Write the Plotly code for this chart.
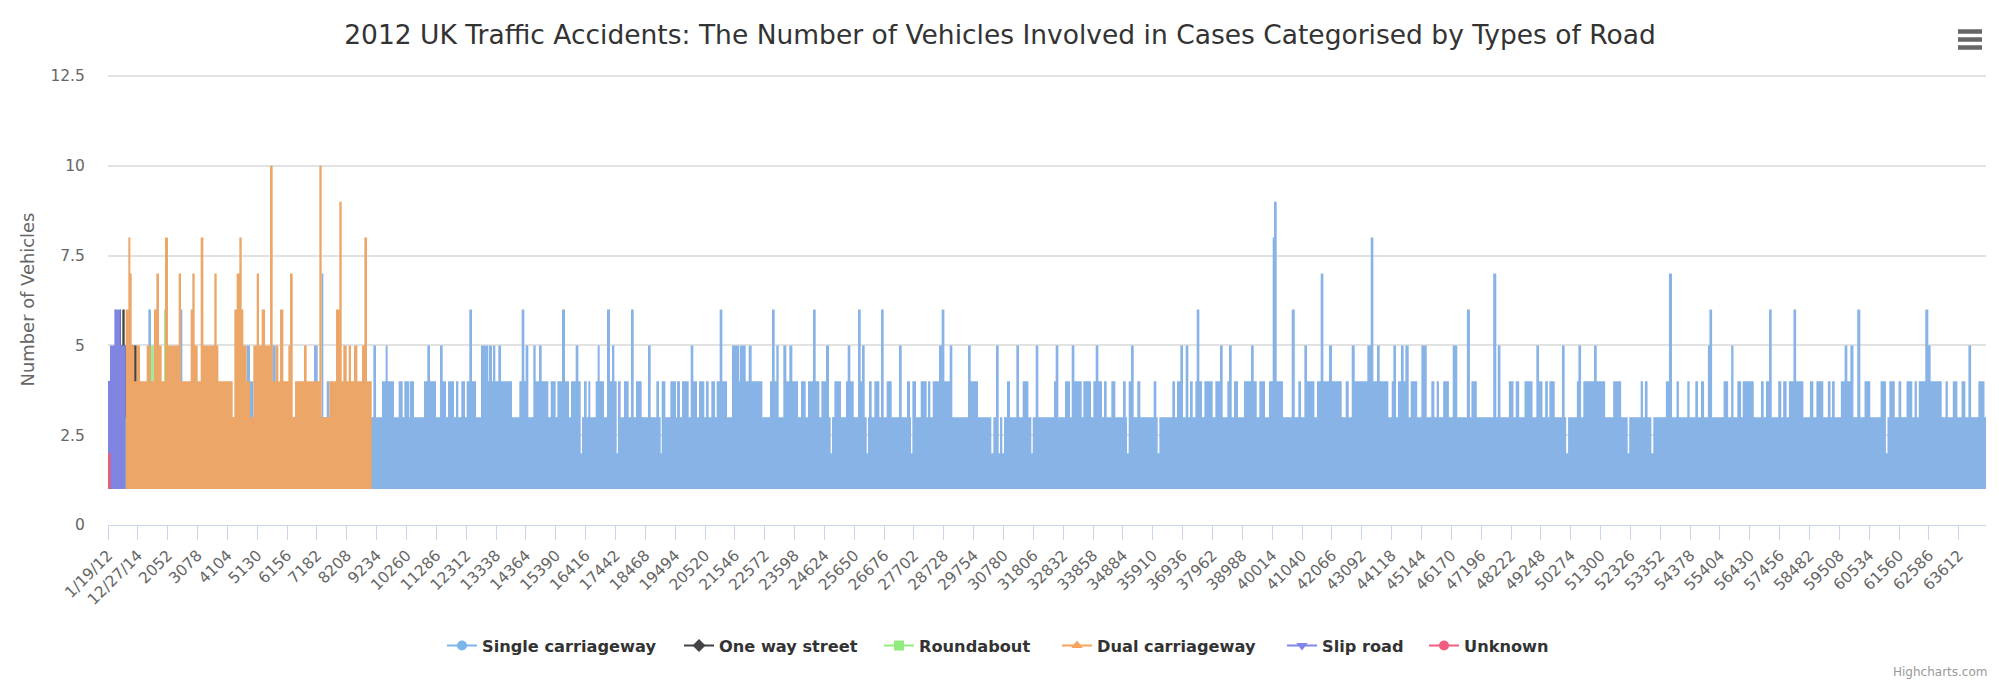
import plotly.graph_objects as go

TITLE = "2012 UK Traffic Accidents: The Number of Vehicles Involved in Cases Categorised by Types of Road"
Y_TITLE = "Number of Vehicles"
CREDIT = "Highcharts.com"
SERIES_NAMES = ["Single carriageway", "One way street", "Roundabout", "Dual carriageway", "Slip road", "Unknown"]
LAST_CATEGORY = 64547

Y_TICKS = [0, 2.5, 5, 7.5, 10, 12.5]
Y_LABELS = ["0", "2.5", "5", "7.5", "10", "12.5"]
X_TICKS = [0, 1026, 2052, 3078, 4104, 5130, 6156, 7182, 8208, 9234, 10260, 11286, 12312, 13338, 14364, 15390,
           16416, 17442, 18468, 19494, 20520, 21546, 22572, 23598, 24624, 25650, 26676, 27702, 28728, 29754,
           30780, 31806, 32832, 33858, 34884, 35910, 36936, 37962, 38988, 40014, 41040, 42066, 43092, 44118,
           45144, 46170, 47196, 48222, 49248, 50274, 51300, 52326, 53352, 54378, 55404, 56430, 57456, 58482,
           59508, 60534, 61560, 62586, 63612]
X_LABELS = ["1/19/12", "12/27/14"] + [str(v) for v in X_TICKS[2:]]

# Each series: category where a run starts, and the vehicle count of that run.
single_start = [0, 1387, 1478, 2475, 2555, 4766, 4881, 4996, 5649, 5763, 7081, 7207, 7344, 7402, 7516, 7608, 9062, 9120, 9211,
    9417, 9543, 9612, 9830, 9990, 10128, 10185, 10357, 10380, 10517, 10861, 10976, 11067, 11273, 11411, 11503, 11617, 11686, 11892, 11961,
    12041, 12144, 12270, 12327, 12419, 12511, 12648, 12820, 13061, 13084, 13198, 13233, 13313, 13416, 13507, 13886, 14138, 14218, 14310, 14355,
    14447, 14619, 14699, 14814, 14905, 15135, 15215, 15387, 15444, 15604, 15707, 15845, 15914, 16074, 16166, 16246, 16292, 16361, 16452, 16509,
    16578, 16761, 16830, 16899, 17048, 17151, 17254, 17323, 17403, 17483, 17529, 17621, 17735, 17895, 17976, 18068, 18148, 18342, 18560, 18652,
    18847, 18938, 18996, 19030, 19156, 19328, 19523, 19557, 19660, 19729, 19958, 20027, 20118, 20244, 20313, 20496, 20554, 20645, 20737, 20863,
    20920, 21023, 21115, 21275, 21447, 21688, 21711, 21917, 22020, 22123, 22490, 22753, 22822, 22914, 22971, 23051, 23212, 23315, 23418, 23521,
    23716, 23819, 23979, 24060, 24231, 24323, 24449, 24518, 24678, 24781, 24838, 24884, 24965, 25194, 25366, 25423, 25515, 25629, 25778, 25870,
    25916, 26007, 26076, 26122, 26156, 26248, 26339, 26511, 26569, 26660, 26763,
    26935, 27187, 27279, 27462, 27565, 27600, 27646, 27772, 27932, 28138, 28184, 28264, 28345, 28562, 28654, 28746, 28929, 29020, 29559, 29651,
    29903, 30361, 30430, 30521, 30613, 30659, 30739, 30796, 30899, 31003, 31220, 31312, 31438, 31633, 31736, 31782, 31885, 31976, 32515, 32572,
    32664, 32893, 33065, 33122, 33214, 33466, 33523, 33787, 33867, 33947, 34039, 34165, 34234, 34325, 34486, 34623, 34886, 34978, 35024, 35081,
    35161, 35253, 35379, 35482, 35940, 36032, 36078, 36135, 36582, 36674, 36742, 36857, 36949, 37040, 37132, 37189, 37281, 37373, 37419, 37510,
    37602, 37682, 37968, 38060, 38220, 38312, 38472, 38530, 38622, 38702, 38839, 39045, 39286, 39378, 39481, 39572, 39767, 39905, 40030, 40076,
    40168, 40386, 40684, 40787, 40913, 41004, 41119, 41211, 41463, 41554, 41680, 41772, 41967, 42070, 42402, 42540, 42643, 42746, 42849, 43284,
    43399, 43491, 43617, 43709, 44006, 44121, 44178, 44270, 44338, 44441, 44533, 44590, 44705,
    44774, 44997, 45141, 45325, 45483, 45588, 45666, 45745, 45890, 46087, 46218, 46376, 46704, 46809, 46861, 47045, 47610, 47715, 47767, 47859,
    48148, 48306, 48384, 48503, 48686, 48962, 49093, 49185, 49303, 49395, 49487, 49540, 49724, 49973, 50065, 50118, 50183, 50485, 50538, 50630,
    50708, 51076, 51168, 51457, 51733, 52008, 52231, 52284, 52678, 52757, 52822, 52914, 53046, 53111, 53544, 53650, 53755, 53912, 53991, 54280,
    54359, 54556, 54647, 54752, 54857, 54989, 55041, 55133, 55527, 55685, 55790, 55868, 56000, 56131, 56184, 56564, 56814, 56906, 56985, 57090,
    57182, 57405, 57510, 57576, 57694, 57772, 57930, 58022, 58271, 58495, 58613, 58718, 58954, 59112, 59204, 59256, 59348, 59558, 59689, 59781,
    59886, 59991, 60123, 60228, 60372, 60569, 60924, 61107, 61160, 61226, 61410, 61541, 61633, 61816, 62013, 62092, 62171, 62236, 62460, 62565,
    62644, 63025, 63156, 63235, 63406, 63563, 63707, 63838, 63943, 64035, 64285, 64495, 64547]
single_value = [3, 6, 3, 6, 3, 5, 4, 3, 5, 3, 5, 3, 7, 3, 4, 3, 3, 5, 3,
    4, 5, 4, 3, 4, 3, 4, 3, 4, 3, 4, 5, 4, 3, 5, 4, 3, 4, 3, 4,
    3, 4, 3, 4, 6, 4, 3, 5, 4, 5, 4, 5, 4, 5, 4, 3, 4, 6, 4, 5,
    3, 5, 4, 5, 4, 3, 4, 3, 4, 6, 4, 3, 4, 5, 4, 2, 3, 4, 3, 4,
    3, 4, 5, 4, 3, 6, 4, 5, 4, 2, 4, 3, 4, 3, 6, 3, 4, 3, 5, 3,
    4, 3, 2, 4, 3, 4, 3, 4, 3, 4, 3, 5, 4, 3, 4, 3, 4, 3, 4, 3,
    4, 6, 4, 3, 5, 4, 5, 4, 5, 4, 3, 4, 6, 4, 5, 3, 5, 4, 5, 4,
    3, 4, 3, 4, 6, 4, 3, 4, 5, 3, 2, 3, 4, 3, 4, 5, 4, 3, 6, 4,
    5, 3, 2, 3, 4, 3, 4, 3, 6, 3, 4,
    3, 5, 3, 4, 3, 2, 4, 3, 4, 3, 4, 3, 4, 5, 6, 4, 5, 3, 5, 4,
    3, 2, 3, 5, 2, 3, 2, 3, 4, 3, 5, 3, 4, 3, 2, 3, 5, 3, 4, 5,
    3, 4, 3, 5, 4, 3, 4, 3, 4, 5, 4, 3, 4, 3, 4, 3, 4, 3, 2, 4,
    5, 3, 4, 3, 4, 3, 2, 3, 4, 3, 4, 5, 3, 5, 3, 4, 3, 4, 6, 4,
    3, 4, 3, 4, 5, 3, 4, 5, 3, 4, 3, 4, 5, 4, 3, 4, 3, 4, 8, 9,
    4, 3, 6, 3, 4, 3, 5, 4, 3, 4, 7, 4, 5, 4, 3, 4, 3, 5, 4, 5,
    8, 4, 5, 4, 3, 4, 5, 3, 4, 5, 4, 5, 3,
    4, 3, 5, 3, 4, 3, 4, 3, 4, 3, 5, 3, 6, 3, 4, 3, 7, 3, 5, 3,
    4, 3, 4, 3, 4, 3, 5, 4, 3, 4, 3, 4, 3, 5, 3, 2, 3, 4, 5, 3,
    4, 5, 4, 3, 4, 3, 2, 3, 4, 3, 4, 3, 2, 3, 4, 7, 3, 4, 3, 4,
    3, 4, 3, 4, 3, 5, 6, 3, 4, 3, 5, 3, 4, 3, 4, 3, 4, 3, 4, 6,
    3, 4, 3, 4, 3, 4, 6, 4, 3, 4, 3, 4, 3, 4, 3, 4, 3, 4, 5, 4,
    5, 3, 6, 3, 4, 3, 4, 2, 3, 4, 3, 4, 3, 4, 3, 4, 3, 4, 6, 5,
    4, 3, 4, 3, 4, 3, 4, 3, 5, 3, 4, 3, 3]

one_way_start = [0, 413, 448, 493, 573, 906, 986]
one_way_value = [4, 6, 5, 6, 5, 5, 5]

roundabout_start = [0, 1467, 1581, 1925, 1959]
roundabout_value = [3, 5, 3, 6, 6]

dual_start = [608, 699, 768, 814, 906, 986, 1100, 1329, 1467, 1581, 1662, 1753, 1845, 1959, 2063, 2429, 2509, 2842, 2899, 2979,
    3082, 3185, 3277, 3655, 3735, 3793, 4285, 4342, 4423, 4514, 4595, 4652, 4766, 4881, 4996, 5110, 5190, 5282, 5397, 5569,
    5660, 5763, 5855, 5912, 6027, 6199, 6256, 6348, 6428, 6737, 6829, 7264, 7344, 7608, 7837, 7952, 8032, 8089, 8204, 8273,
    8352, 8456, 8570, 8731, 8811, 8902, 9063]
dual_value = [6, 8, 7, 5, 4, 5, 4, 5, 4, 6, 7, 5, 4, 8, 5, 7, 4, 6, 7, 5,
    4, 8, 5, 7, 5, 4, 3, 6, 7, 8, 6, 5, 4, 3, 5, 7, 5, 6, 5, 10,
    4, 5, 4, 6, 4, 5, 7, 3, 4, 5, 4, 10, 3, 4, 6, 9, 4, 5, 4, 5,
    4, 5, 4, 5, 8, 4, 4]

slip_start = [0, 69, 218, 436, 608]
slip_value = [4, 5, 6, 5, 5]

unknown_start = [0, 92]
unknown_value = [2, 2]

SERIES = [
    (single_start, single_value, "#87b3e6", "#7cb5ec", "circle"),
    (one_way_start, one_way_value, "#434348", "#434348", "diamond"),
    (roundabout_start, roundabout_value, "#a3ea92", "#90ed7d", "square"),
    (dual_start, dual_value, "#eca668", "#f7a35c", "triangle-up"),
    (slip_start, slip_value, "#8085e1", "#8085e9", "triangle-down"),
    (unknown_start, unknown_value, "#e0607e", "#f15c80", "circle"),
]
LEGEND_LEFT_PX = [442, 679, 879, 1057, 1282, 1424]

PAGE = 8  # the browser's default body margin
W, H = 1999 - PAGE, 689 - PAGE
L, R, T, B = 108 - PAGE, 13, 66, 164


def paper_x(px):
    return (px - PAGE - L) / (W - L - R)


def paper_y(py):
    return (H - B - (py - PAGE)) / (H - T - B)


fig = go.Figure()
for name, (starts, values, fill, color, symbol) in zip(SERIES_NAMES, SERIES):
    # closed step outline standing on the y = 1 floor of the areas
    xs = [starts[0]] + starts + [starts[-1]]
    ys = [1] + values + [1]
    fig.add_trace(go.Scatter(x=xs, y=ys, mode="lines", line=dict(shape="hv", width=0, color=fill),
                             fill="toself", fillcolor=fill, showlegend=False, hoverinfo="skip", name=name))

legend_layout = {}
for i, (name, (starts, values, fill, color, symbol)) in enumerate(zip(SERIES_NAMES, SERIES)):
    key = "legend" if i == 0 else f"legend{i + 1}"
    fig.add_trace(go.Scatter(x=[None], y=[None], mode="lines+markers", name=name, legend=key,
                             line=dict(color=color, width=2),
                             marker=dict(color=color, size=10, symbol=symbol)))
    legend_layout[key] = dict(x=paper_x(LEGEND_LEFT_PX[i]), xanchor="left", y=paper_y(646), yanchor="middle",
                              bgcolor="rgba(0,0,0,0)", itemwidth=30,
                              font=dict(family="DejaVu Sans", size=16.2, color="#333333", weight="bold"))

shapes = []
for py in (31.5, 39.5, 47.5):
    shapes.append(dict(type="line", xref="paper", yref="paper", x0=paper_x(1958), x1=paper_x(1982),
                       y0=paper_y(py), y1=paper_y(py), line=dict(color="#666666", width=4.5)))

fig.update_layout(
    width=W, height=H, autosize=False,
    margin=dict(l=L, r=R, t=T, b=B, pad=0),
    paper_bgcolor="white", plot_bgcolor="white",
    font=dict(family="DejaVu Sans", color="#666666"),
    title=dict(text=TITLE, x=(1000 - PAGE) / W, xanchor="center", y=(H - 27) / H, yanchor="middle",
               font=dict(family="DejaVu Sans", size=26.5, color="#333333")),
    xaxis=dict(range=[0, LAST_CATEGORY], tickmode="array", tickvals=X_TICKS, ticktext=X_LABELS,
               tickangle=-45, ticks="outside", ticklen=14, tickwidth=1.3, tickcolor="#ccd6eb",
               showline=True, linecolor="#ccd6eb", linewidth=1.3, showgrid=False, zeroline=False,
               tickfont=dict(family="DejaVu Sans", size=15.5, color="#666666")),
    yaxis=dict(range=[0, 12.555], tickmode="array", tickvals=Y_TICKS, ticktext=Y_LABELS,
               ticks="outside", ticklen=19, tickcolor="rgba(0,0,0,0)", showline=False,
               showgrid=True, gridcolor="#e2e2e2", gridwidth=1.5, zeroline=False,
               tickfont=dict(family="DejaVu Sans", size=15.5, color="#666666"),
               title=dict(text=Y_TITLE, standoff=11, font=dict(family="DejaVu Sans", size=17.9, color="#666666"))),
    shapes=shapes,
    annotations=[dict(text=CREDIT, xref="paper", yref="paper", x=paper_x(1989), y=paper_y(672),
                      xanchor="right", yanchor="middle", showarrow=False,
                      font=dict(family="DejaVu Sans", size=12, color="#999999"))],
    **legend_layout,
)

fig.write_html("out.html", config=dict(displayModeBar=False))
